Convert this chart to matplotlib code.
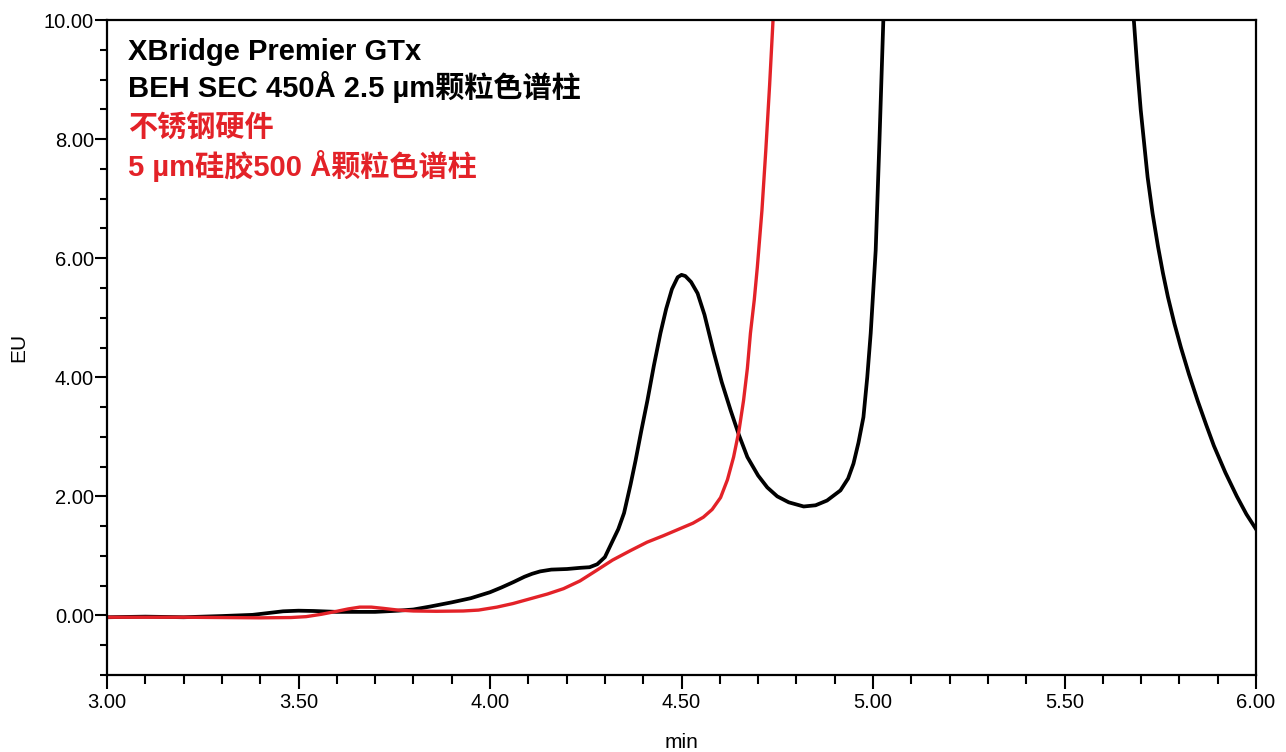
import matplotlib
matplotlib.use("Agg")
import matplotlib.pyplot as plt
from matplotlib.ticker import MultipleLocator, FormatStrFormatter

plt.rcParams['font.family'] = ['Liberation Sans', 'Noto Sans CJK SC', 'DejaVu Sans']

# black trace: XBridge Premier GTx BEH SEC 450A 2.5 um
black_t = [3.00, 3.10, 3.20, 3.30, 3.38, 3.42, 3.46, 3.50, 3.54, 3.60, 3.70, 3.76,
           3.80, 3.844, 3.90, 3.95, 3.975, 4.00, 4.03, 4.061, 4.09, 4.11, 4.131, 4.16,
           4.201, 4.236, 4.26, 4.28, 4.30, 4.32, 4.335, 4.35, 4.367, 4.38, 4.395, 4.411,
           4.428, 4.445, 4.46, 4.475, 4.49, 4.50, 4.51, 4.525, 4.542, 4.56, 4.583, 4.605,
           4.628, 4.65, 4.672, 4.70, 4.724, 4.75, 4.78, 4.819, 4.85, 4.88, 4.915, 4.935,
           4.949, 4.962, 4.975, 4.985, 4.994, 5.007, 5.017, 5.027, 5.035,
           5.67, 5.681, 5.69, 5.699, 5.717, 5.73, 5.744, 5.757, 5.77, 5.787, 5.804,
           5.825, 5.848, 5.87, 5.89, 5.92, 5.95, 5.975, 6.00]
black_eu = [-0.03, -0.02, -0.03, -0.01, 0.01, 0.04, 0.07, 0.08, 0.075, 0.06, 0.06, 0.08,
            0.10, 0.15, 0.22, 0.29, 0.34, 0.39, 0.47, 0.56, 0.65, 0.70, 0.74, 0.77,
            0.78, 0.80, 0.81, 0.86, 0.98, 1.25, 1.45, 1.72, 2.20, 2.60, 3.10, 3.61,
            4.20, 4.74, 5.15, 5.48, 5.68, 5.72, 5.70, 5.60, 5.41, 5.05, 4.45, 3.92,
            3.45, 3.03, 2.66, 2.35, 2.15, 2.00, 1.90, 1.83, 1.85, 1.93, 2.10, 2.30,
            2.55, 2.90, 3.33, 4.00, 4.74, 6.13, 8.00, 10.0, 11.5,
            11.5, 10.0, 9.20, 8.49, 7.36, 6.75, 6.20, 5.75, 5.35, 4.90, 4.50,
            4.05, 3.60, 3.20, 2.85, 2.40, 2.00, 1.70, 1.45]

# red trace: stainless steel hardware, 5 um silica 500 A
red_t = [3.00, 3.20, 3.40, 3.48, 3.52, 3.56, 3.60, 3.63, 3.66, 3.69, 3.72, 3.76,
         3.80, 3.86, 3.93, 3.97, 4.018, 4.06, 4.105, 4.15, 4.192, 4.235, 4.279, 4.32,
         4.367, 4.41, 4.453, 4.497, 4.53, 4.557, 4.58, 4.602, 4.62, 4.636, 4.65, 4.662,
         4.672, 4.68, 4.69, 4.698, 4.71, 4.72, 4.73, 4.739, 4.745]
red_eu = [-0.03, -0.03, -0.04, -0.035, -0.02, 0.02, 0.07, 0.11, 0.14, 0.14, 0.12, 0.09,
          0.075, 0.07, 0.075, 0.09, 0.14, 0.20, 0.28, 0.36, 0.45, 0.58, 0.76, 0.93,
          1.09, 1.23, 1.34, 1.46, 1.55, 1.65, 1.78, 1.98, 2.28, 2.66, 3.10, 3.61,
          4.15, 4.74, 5.30, 5.85, 6.80, 7.80, 8.90, 10.0, 10.7]

red = '#e32228'

fig = plt.figure(figsize=(12.86, 7.52), dpi=100)
ax = fig.add_axes([107 / 1286, 1 - 675 / 752, 1149 / 1286, 655 / 752])

ax.plot(black_t, black_eu, color='black', lw=2.7, solid_joinstyle='round')
ax.plot(red_t, red_eu, color=red, lw=2.4, solid_joinstyle='round')

ax.set_xlim(3.0, 6.0)
ax.set_ylim(-1.0, 10.0)
ax.xaxis.set_major_locator(MultipleLocator(0.5))
ax.xaxis.set_minor_locator(MultipleLocator(0.1))
ax.yaxis.set_major_locator(MultipleLocator(2.0))
ax.yaxis.set_minor_locator(MultipleLocator(0.5))
ax.xaxis.set_major_formatter(FormatStrFormatter('%.2f'))
ax.yaxis.set_major_formatter(FormatStrFormatter('%.2f'))
ax.set_yticks([0, 2, 4, 6, 8, 10])

ax.tick_params(axis='x', which='major', length=10, width=1.5, direction='out', labelsize=14.5, pad=3)
ax.tick_params(axis='x', which='minor', length=6.5, width=1.5, direction='out')
ax.tick_params(axis='y', which='major', length=8.5, width=1.5, direction='out', labelsize=14.5, pad=1)
ax.tick_params(axis='y', which='minor', length=5, width=1.5, direction='out')
for s in ax.spines.values():
    s.set_linewidth(1.6)

ax.set_xlabel('min', fontsize=15, labelpad=15)
ax.set_ylabel('EU', fontsize=15, labelpad=11)

lines = [
    ('XBridge Premier GTx', 'black', 0.939),
    ('BEH SEC 450Å 2.5 µm颗粒色谱柱', 'black', 0.882),
    ('不锈钢硬件', red, 0.822),
    ('5 µm硅胶500 Å颗粒色谱柱', red, 0.762),
]
for txt, c, y in lines:
    ax.text(0.018, y, txt, transform=ax.transAxes, color=c, fontsize=21,
            fontweight='bold', va='baseline', ha='left',
            family=['Liberation Sans', 'Noto Sans CJK SC', 'DejaVu Sans'])

fig.savefig('out.png', dpi=100)
